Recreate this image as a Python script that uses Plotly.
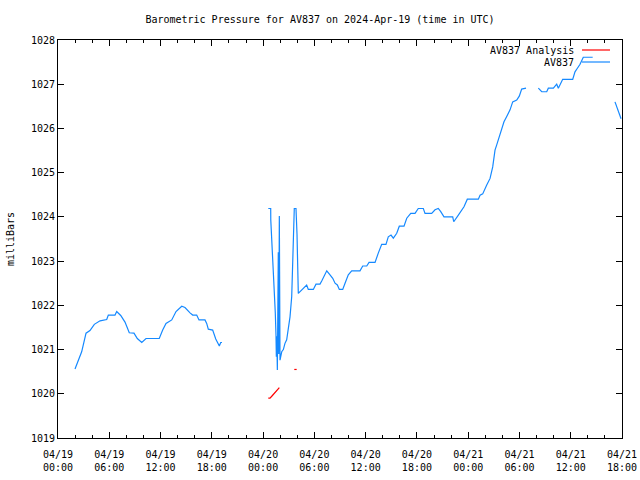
import plotly.graph_objects as go
import pandas as pd

BASE = pd.Timestamp("2024-04-19 00:00")

# AV837 observations: hours since 2024-04-19 00:00 UTC (None = gap)
obs_hours = [
    1.99, 2.38, 2.77, 3.28, 3.74, 4.25, 4.92, 5.70, 5.89, 6.67, 6.87, 7.34, 7.84,
    8.34, 8.89, 9.28, 9.80, 10.30, 11.85, 12.25, 12.64, 13.31, 13.81, 14.48, 14.86,
    15.45, 15.76, 16.23, 16.50, 17.20, 17.40, 17.59, 18.10, 18.46, 18.88, 19.04, 19.19,
    None,
    24.61, 24.89, 24.90, 25.04, 25.20, 25.31, 25.43, 25.51, 25.55, 25.60, 25.67, 25.78,
    25.83, 25.90, 25.98, 26.18, 26.37, 26.56, 26.76, 26.95, 27.15, 27.35, 27.46, 27.54,
    27.65, 27.85, 27.97, 28.12, 28.32, 28.71, 29.10, 29.29, 29.88, 30.19, 30.66, 30.86,
    31.13, 31.45, 31.83, 32.15, 32.42, 32.69, 32.92, 33.32, 33.59, 33.97, 34.37, 35.34,
    35.66, 36.13, 36.40, 37.10, 37.48, 37.88, 38.38, 38.65, 38.97, 39.24, 39.64, 39.94,
    40.49, 40.81, 41.28, 41.78, 42.16, 42.75, 42.95, 43.73, 44.12, 44.50, 44.79, 45.17,
    46.19, 46.31, 46.85, 47.51, 47.90, 49.19, 49.39, 49.70, 50.17, 50.56, 50.87, 51.14,
    51.34, 51.64, 51.92, 52.19, 52.51, 52.90, 53.21, 53.68, 53.98, 54.26, 54.77,
    None,
    56.21, 56.61, 57.19, 57.38, 57.97, 58.36, 58.55, 59.06, 60.23, 60.50, 60.74, 61.09,
    61.47, 62.57,
    None,
    65.18, 65.77, 65.89,
]
obs_mb = [
    1020.56, 1020.75, 1020.95, 1021.37, 1021.43, 1021.57, 1021.65, 1021.68, 1021.78,
    1021.78, 1021.86, 1021.77, 1021.62, 1021.38, 1021.37, 1021.25, 1021.16, 1021.25,
    1021.25, 1021.44, 1021.59, 1021.67, 1021.86, 1021.98, 1021.95, 1021.83, 1021.78,
    1021.78, 1021.67, 1021.67, 1021.59, 1021.46, 1021.44, 1021.24, 1021.08, 1021.16, 1021.16,
    None,
    1024.19, 1024.19, 1023.93, 1023.40, 1022.87, 1022.38, 1021.82, 1021.33, 1020.84,
    1021.30, 1020.54, 1023.20, 1020.90, 1024.02, 1020.76, 1020.95, 1021.00, 1021.14,
    1021.22, 1021.44, 1021.74, 1022.20, 1023.03, 1023.78, 1024.19, 1024.19, 1023.60,
    1022.27, 1022.31, 1022.38, 1022.46, 1022.36, 1022.36, 1022.48, 1022.48, 1022.55,
    1022.66, 1022.78, 1022.69, 1022.61, 1022.50, 1022.46, 1022.36, 1022.36, 1022.50,
    1022.69, 1022.78, 1022.78, 1022.89, 1022.89, 1022.97, 1022.97, 1023.18, 1023.38,
    1023.38, 1023.55, 1023.59, 1023.52, 1023.63, 1023.79, 1023.79, 1023.97, 1024.08,
    1024.08, 1024.19, 1024.19, 1024.08, 1024.08, 1024.16, 1024.19, 1024.12, 1024.00,
    1024.00, 1023.89, 1024.04, 1024.23, 1024.40, 1024.40, 1024.49, 1024.52, 1024.72,
    1024.87, 1025.13, 1025.51, 1025.63, 1025.81, 1026.00, 1026.15, 1026.27, 1026.42,
    1026.60, 1026.64, 1026.73, 1026.89, 1026.91,
    None,
    1026.91, 1026.83, 1026.83, 1026.91, 1026.91, 1027.00, 1026.91, 1027.11, 1027.11,
    1027.28, 1027.35, 1027.45, 1027.61, 1027.61,
    None,
    1026.60, 1026.27, 1026.22,
]

# AV837 Analysis
ana_hours = [24.61, 24.81, 25.04, 25.27, 25.51, 25.74, 25.90, None, 27.65, 27.93]
ana_mb = [1019.90, 1019.90, 1019.95, 1020.00, 1020.05, 1020.10, 1020.14, None, 1020.55, 1020.55]

tick_hours = [0, 6, 12, 18, 24, 30, 36, 42, 48, 54, 60, 66]
y_ticks = [1019, 1020, 1021, 1022, 1023, 1024, 1025, 1026, 1027, 1028]

def to_time(hours):
    return [BASE + pd.Timedelta(hours=h) if h is not None else None for h in hours]

tick_times = to_time(tick_hours)
tick_text = [t.strftime("%m/%d<br>%H:%M") for t in tick_times]

RED = "#ff0000"
BLUE = "#1589ff"
FONT = "DejaVu Sans Mono"

fig = go.Figure()
fig.add_trace(go.Scatter(x=to_time(ana_hours), y=ana_mb, mode="lines",
                         name="AV837 Analysis", line=dict(color=RED, width=1.2)))
fig.add_trace(go.Scatter(x=to_time(obs_hours), y=obs_mb, mode="lines",
                         name="AV837", line=dict(color=BLUE, width=1.2)))

axis_common = dict(showline=True, linecolor="black", linewidth=1, mirror="allticks",
                   ticks="inside", ticklen=6, tickcolor="black", showgrid=False,
                   zeroline=False, automargin=False,
                   tickfont=dict(family=FONT, size=10, color="black"))

fig.update_xaxes(range=[tick_times[0], tick_times[-1]], tickvals=tick_times,
                 ticktext=tick_text, ticklabelstandoff=7,
                 minor=dict(dtick=2 * 3600 * 1000, ticks="inside", ticklen=3,
                            tickcolor="black", showgrid=False),
                 **axis_common)
fig.update_yaxes(range=[1019, 1028], tickvals=y_ticks,
                 title=dict(text="milliBars", font=dict(family=FONT, size=10, color="black"),
                            standoff=14),
                 **axis_common)

# legend drawn gnuplot-style (text then sample, right aligned)
legend_items = [("AV837 Analysis", RED, 50), ("AV837", BLUE, 62)]
for text, color, ypx in legend_items:
    yp = 1 - (ypx - 40) / 398
    fig.add_annotation(xref="paper", yref="paper", x=(576 - 58) / 564, y=yp,
                       text=text, showarrow=False, xanchor="right", yanchor="middle",
                       font=dict(family=FONT, size=10, color="black"))
    fig.add_shape(type="line", xref="paper", yref="paper",
                  x0=(582 - 58) / 564, x1=(610 - 58) / 564, y0=yp, y1=yp,
                  line=dict(color=color, width=1.2))

fig.update_layout(
    width=640, height=480,
    margin=dict(l=58, r=18, t=40, b=42),
    paper_bgcolor="white", plot_bgcolor="white",
    showlegend=False,
    title=dict(text="Barometric Pressure for AV837 on 2024-Apr-19 (time in UTC)",
               x=0.5, xanchor="center", y=1 - 19 / 480, yanchor="middle",
               font=dict(family=FONT, size=10, color="black")),
    font=dict(family=FONT, size=10, color="black"),
)

fig.write_html("out.html")
